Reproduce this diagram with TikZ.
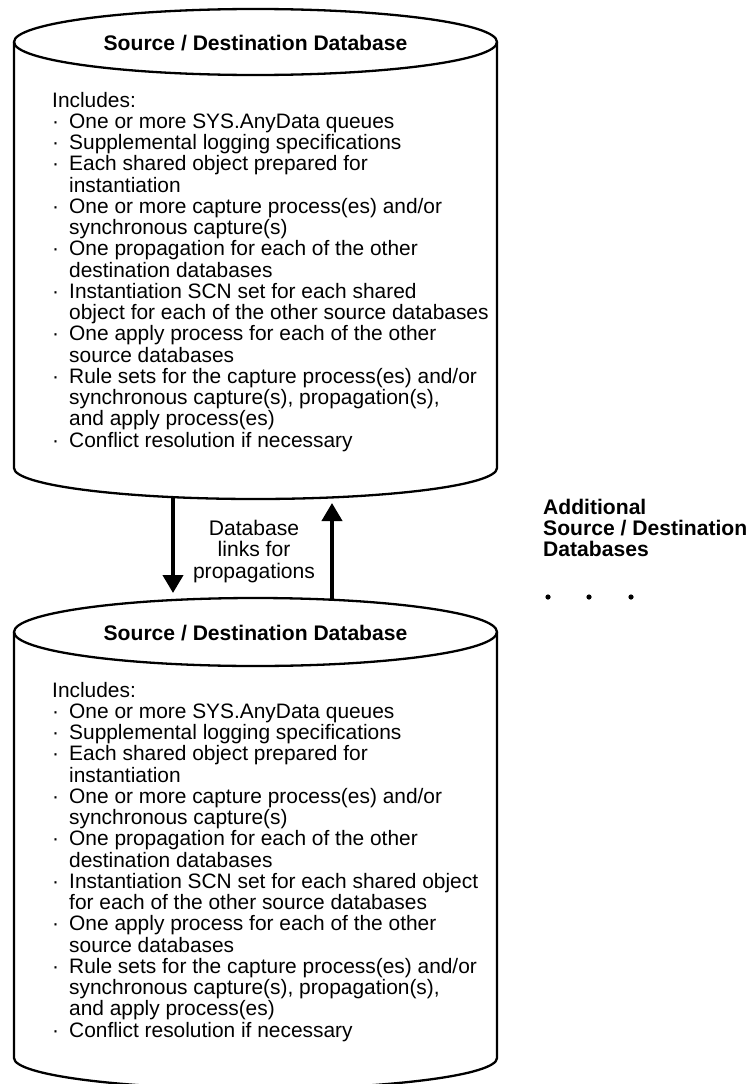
\documentclass[tikz,border=0pt]{standalone}
\usepackage{fontspec}
\setmainfont{Liberation Sans}
\usetikzlibrary{arrows.meta}
\newcommand{\bitem}{\makebox[17pt][l]{·}}
\newcommand{\bcont}{\hspace*{17pt}}
\tikzset{
  cyl/.style={line width=2.3pt, line join=round},
  bigarrow/.style={line width=4pt, -{Triangle[width=20pt,length=18pt]}},
  title/.style={font=\fontsize{21.1}{21.25}\selectfont\bfseries, inner sep=0pt, anchor=base},
  listtext/.style={font=\fontsize{20.9}{21.25}\selectfont, inner sep=0pt, anchor=base west},
  plain/.style={font=\fontsize{21.1}{21.25}\selectfont, inner sep=0pt, align=center},
  side/.style={font=\fontsize{21.1}{21.4}\selectfont\bfseries, inner sep=0pt, anchor=base west},
}
\begin{document}
\begin{tikzpicture}[x=1pt,y=1pt]
\useasboundingbox (0,0) rectangle (748,-1084);
% top cylinder
\draw[cyl] (14,-42) -- (14,-468) arc[start angle=180,end angle=360,x radius=241.5,y radius=31] -- (497,-42);
\draw[cyl] (255.5,-42) ellipse[x radius=241.5, y radius=33];
\node[title] (t1) at (255.5,-50) {Source / Destination Database};
\node[listtext] (l1) at (52,-107) {\parbox[t]{460pt}{\raggedright
Includes:\\
\bitem One or more SYS.AnyData queues\\
\bitem Supplemental logging specifications\\
\bitem Each shared object prepared for\\
\bcont instantiation\\
\bitem One or more capture process(es) and/or\\
\bcont synchronous capture(s)\\
\bitem One propagation for each of the other\\
\bcont destination databases\\
\bitem Instantiation SCN set for each shared\\
\bcont object for each of the other source databases\\
\bitem One apply process for each of the other\\
\bcont source databases\\
\bitem Rule sets for the capture process(es) and/or\\
\bcont synchronous capture(s), propagation(s),\\
\bcont and apply process(es)\\
\bitem Conflict resolution if necessary}};
% bottom cylinder
\draw[cyl] (14,-632) -- (14,-1058) arc[start angle=180,end angle=360,x radius=241.5,y radius=31] -- (497,-632);
\draw[cyl] (255.5,-632) ellipse[x radius=241.5, y radius=34];
\node[title] (t2) at (255.5,-640) {Source / Destination Database};
\node[listtext] (l2) at (52,-697) {\parbox[t]{460pt}{\raggedright
Includes:\\
\bitem One or more SYS.AnyData queues\\
\bitem Supplemental logging specifications\\
\bitem Each shared object prepared for\\
\bcont instantiation\\
\bitem One or more capture process(es) and/or\\
\bcont synchronous capture(s)\\
\bitem One propagation for each of the other\\
\bcont destination databases\\
\bitem Instantiation SCN set for each shared object\\
\bcont for each of the other source databases\\
\bitem One apply process for each of the other\\
\bcont source databases\\
\bitem Rule sets for the capture process(es) and/or\\
\bcont synchronous capture(s), propagation(s),\\
\bcont and apply process(es)\\
\bitem Conflict resolution if necessary}};
% arrows
\coordinate (d1) at (173,-497);
\coordinate (d2) at (173,-593);
\coordinate (u1) at (332,-600);
\coordinate (u2) at (332,-503);
\draw[bigarrow] (d1) -- (d2);
\draw[bigarrow] (u1) -- (u2);
\node[plain, anchor=base] (lab) at (254,-578) {Database\\links for\\propagations};
% additional
\node[side] (add) at (543,-514) {\parbox[t]{220pt}{Additional\\Source / Destination\\Databases}};
\fill (548,-597) circle[radius=2.6] coordinate (p1);
\fill (589,-597) circle[radius=2.6] coordinate (p2);
\fill (631,-597) circle[radius=2.6] coordinate (p3);
\end{tikzpicture}
\end{document}
